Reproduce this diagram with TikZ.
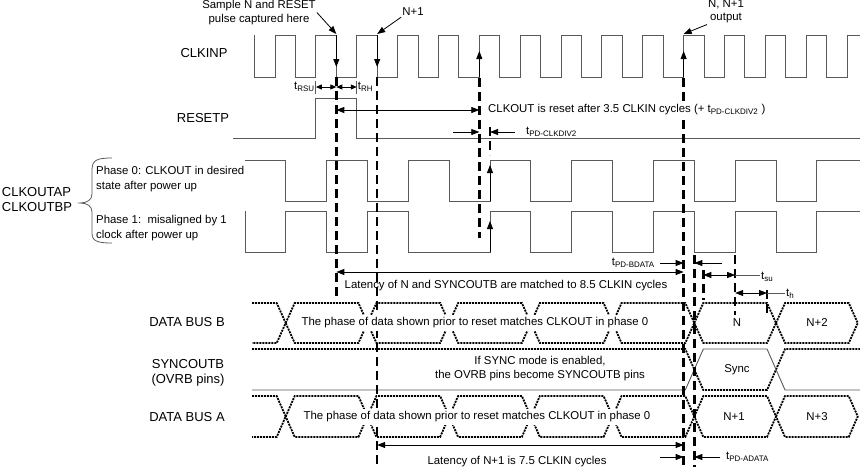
\documentclass[tikz,border=0pt]{standalone}
\usepackage{fontspec}
\setmainfont{Liberation Sans}
\usetikzlibrary{arrows.meta}
\newcommand{\tsub}[1]{t\textsubscript{#1}}
\newcommand{\inx}[1]{254.6+(#1)*20.43}
\newcommand{\outx}[1]{285.7+(#1)*40.86}

\begin{document}
\begin{tikzpicture}[x=1pt, y=-1pt]
  \tikzset{
    wave/.style={black!65, line width=0.9pt},
    bus/.style={black, line width=1.8pt, dash pattern=on 2pt off 1pt},
    marker/.style={black, line width=2.4pt, dash pattern=on 9pt off 5pt},
    tick/.style={black!65, line width=0.8pt},
    dim/.style={black, line width=0.8pt, -{Triangle[length=8pt,width=6pt]}},
    dimboth/.style={dim, {Triangle[length=8pt,width=6pt]}-{Triangle[length=8pt,width=6pt]}},
    dimsmall/.style={dim, {Triangle[length=6pt,width=5pt]}-{Triangle[length=6pt,width=5pt]}},
    signame/.style={font=\fontsize{13}{15}\selectfont, inner sep=1pt},
    note/.style={font=\fontsize{11.4}{13.5}\selectfont, inner sep=1pt},
  }
  \useasboundingbox (0,0) rectangle (860,472);

  % edges that the markers hang on
  \coordinate (rsuStart) at ({\inx{3}},0);
  \coordinate (sampN) at ({\inx{4}},0);
  \coordinate (rhEnd) at ({\inx{5}},0);
  \coordinate (nextN) at ({\inx{6}},0);
  \coordinate (clkRst) at ({\inx{11}},0);
  \coordinate (clkOut) at ({\inx{21}},0);
  \coordinate (rstEdge) at ({\outx{5}},0);
  \coordinate (busB) at ({\outx{10}},0);
  \coordinate (suStart) at ({\outx{10}+9},0);
  \coordinate (capN) at ({\outx{11}},0);
  \coordinate (hEnd) at ({\outx{12}-9},0);

  % waveforms
  \foreach \i in {0,...,14}
    \draw[wave] ({\inx{2*\i}},35) -- ({\inx{2*\i}},77) -- ({\inx{2*\i+1}},77)
      -- ({\inx{2*\i+1}},35) -- ({min(\inx{2*\i+2},860)},35);
  \draw[wave] (233,138) -- (rsuStart |- 0,138) -- (rsuStart |- 0,98)
    -- (rhEnd |- 0,98) -- (rhEnd |- 0,138) -- (860,138);
  \draw[wave] (245,160) \foreach \j in {0,...,6} { -- ({\outx{2*\j}},160) -- ({\outx{2*\j}},201)
    -- ({\outx{2*\j+1}},201) -- ({\outx{2*\j+1}},160) } -- (860,160);
  \draw[wave] (245,211) -- (245,252) \foreach \j in {0,1} { -- ({\outx{2*\j}},252) -- ({\outx{2*\j}},211)
    -- ({\outx{2*\j+1}},211) -- ({\outx{2*\j+1}},252) } -- ({\outx{5}},252) -- ({\outx{5}},211)
    \foreach \j in {3,...,6} { -- ({\outx{2*\j}},211) -- ({\outx{2*\j}},252)
    -- ({\outx{2*\j+1}},252) -- ({\outx{2*\j+1}},211) } -- (860,211);

  % data buses
  \foreach \yt/\yb in {303/343,396/437} {
    \draw[bus] (252,\yt) -- ({\outx{0}-9},\yt) -- ({\outx{0}},{(\yt+\yb)/2}) -- ({\outx{0}-9},\yb) -- (252,\yb);
    \foreach \a/\b in {0/2,2/4,4/6,6/8,8/10,10/12,12/14}
      \draw[bus] ({\outx{\a}},{(\yt+\yb)/2}) -- ({\outx{\a}+9},\yt) -- ({\outx{\b}-9},\yt)
        -- ({\outx{\b}},{(\yt+\yb)/2}) -- ({\outx{\b}-9},\yb) -- ({\outx{\a}+9},\yb) -- cycle;
  }
  \draw[bus] (252,349) -- ({\outx{10}-9},349) -- ({\outx{10}+9},390) -- ({\outx{12}-9},390)
    -- ({\outx{12}+9},349) -- (860,349);
  \draw[wave] (252,390) -- ({\outx{10}-9},390) -- ({\outx{10}+9},349) -- ({\outx{12}-9},349)
    -- ({\outx{12}+9},390) -- (860,390);

  % dashed markers
  \foreach \m/\ya/\yb in {sampN/77/300, nextN/77/467, clkRst/78/238, rstEdge/127/155,
      clkOut/78/467, busB/255/467, suStart/270/300, capN/255/315, hEnd/290/315}
    \draw[marker] (\m |- 0,\ya) -- (\m |- 0,\yb);

  % labels
  \node[signame] (clkinpLbl) at (204,53) {CLKINP};
  \node[signame] (resetpLbl) at (203,118) {RESETP};
  \node[signame, align=left] (clkoutLbl) at (37,200) {CLKOUTAP\\CLKOUTBP};
  \node[signame] (busBLbl) at (187,322) {DATA BUS B};
  \node[signame, align=center] (syncLbl) at (188,373) {SYNCOUTB\\(OVRB pins)};
  \node[signame] (busALbl) at (187,417) {DATA BUS A};
  \draw[tick] (112,158) .. controls (97,158) and (92,160) .. (92,170) -- (92,194)
    .. controls (92,200) and (87,203) .. (80,203) .. controls (87,203) and (92,206) .. (92,212)
    -- (92,233) .. controls (92,241) and (97,243) .. (112,243);
  \node[note, anchor=west, align=left, font=\fontsize{11.4}{15}\selectfont] (phase0Txt) at (95,179.5)
    {Phase 0: CLKOUT in desired\\state after power up};
  \node[note, anchor=west, align=left, font=\fontsize{11.4}{14.5}\selectfont] (phase1Txt) at (95,228)
    {Phase 1:\ \ misaligned by 1\\clock after power up};

  % notes
  \node[note, align=center] (sampleTxt) at (259,12.5) {Sample N and RESET\\pulse captured here};
  \node[note] (nextTxt) at (413,12) {N+1};
  \node[note, align=center] (outTxt) at (726,11.5) {N, N+1\\output};
  \node[note, anchor=east] (rsuTxt) at (rsuStart |- 0,87) {\tsub{RSU}};
  \node[note, anchor=west] (rhTxt) at (rhEnd |- 0,87) {\tsub{RH}};
  \node[note, anchor=west, fill=white] (resetTxt) at (487,110)
    {CLKOUT is reset after 3.5 CLKIN cycles (+ \tsub{PD-CLKDIV2} )};
  \node[note, anchor=west] (pdcTxt) at (525,132) {\tsub{PD-CLKDIV2}};
  \node[note, anchor=east] (pdbTxt) at (656,263) {\tsub{PD-BDATA}};
  \node[note] (latNTxt) at (506,286) {Latency of N and SYNCOUTB are matched to 8.5 CLKIN cycles};
  \node[note, anchor=west] (suTxt) at (760,277) {\tsub{su}};
  \node[note, anchor=west] (hTxt) at (785,294) {\tsub{h}};
  \node[note, fill=white, minimum height=16pt] (busBTxt) at (475,323)
    {The phase of data shown prior to reset matches CLKOUT in phase 0};
  \node[note] (nTxt) at (737,323) {N};
  \node[note] (n2Txt) at (817,323) {N+2};
  \node[note, align=center] (syncModeTxt) at (540,368.5)
    {If SYNC mode is enabled,\\the OVRB pins become SYNCOUTB pins};
  \node[note] (syncTxt) at (737,370) {Sync};
  \node[note, fill=white, minimum height=16pt] (busATxt) at (477,417)
    {The phase of data shown prior to reset matches CLKOUT in phase 0};
  \node[note] (n1Txt) at (734,417) {N+1};
  \node[note] (n3Txt) at (817,417) {N+3};
  \node[note] (latN1Txt) at (517,462) {Latency of N+1 is 7.5 CLKIN cycles};
  \node[note, anchor=west] (pdaTxt) at (725,457) {\tsub{PD-ADATA}};

  % free ends of the timing arrows
  \coordinate (pdcA) at (453,132);
  \coordinate (pdcB) at (515,132);
  \coordinate (pdbA) at (660,263);
  \coordinate (pdbB) at (722,263);
  \coordinate (pdaA) at (660,457);
  \coordinate (pdaB) at (720,457);

  % arrows
  \draw[dim] (sampleTxt.east) -- (sampN |- 0,34);
  \draw[dim] (nextTxt.south west) -- (nextN |- 0,34);
  \draw[dim] (outTxt.south west) -- (clkOut |- 0,34);
  \draw[dim] (sampN |- 0,35) -- (sampN |- 0,67);
  \draw[dim] (nextN |- 0,35) -- (nextN |- 0,67);
  \draw[dim] (clkRst |- 0,77) -- (clkRst |- 0,51);
  \draw[dim] (clkOut |- 0,77) -- (clkOut |- 0,51);
  \draw[dim] (rstEdge |- 0,201) -- (rstEdge |- 0,165);
  \draw[dim] (rstEdge |- 0,252) -- (rstEdge |- 0,221);
  \draw[tick] (rsuStart |- 0,81) -- (rsuStart |- 0,94);
  \draw[tick] (rhEnd |- 0,81) -- (rhEnd |- 0,94);
  \draw[dimsmall] (rsuStart |- 0,87) -- (sampN |- 0,87);
  \draw[dimsmall] (sampN |- 0,87) -- (rhEnd |- 0,87);
  \draw[dimboth] (sampN |- 0,110) -- (clkRst |- 0,110);
  \draw[dim] (pdcA) -- (clkRst |- pdcA);
  \draw[dim] (pdcB) -- (rstEdge |- pdcB);
  \draw[dim] (pdbA) -- (clkOut |- pdbA);
  \draw[dim] (pdbB) -- (busB |- pdbB);
  \draw[dimboth] (sampN |- 0,272) -- (clkOut |- 0,272);
  \draw[dimboth] (suStart |- 0,275) -- (capN |- 0,275);
  \draw[tick] (capN |- 0,275) -- (suTxt.west |- 0,275);
  \draw[dimboth] (capN |- 0,293) -- (hEnd |- 0,293);
  \draw[tick] (hEnd |- 0,293) -- (hTxt.west |- 0,293);
  \draw[dimboth] (nextN |- 0,445) -- (clkOut |- 0,445);
  \draw[dim] (pdaA) -- (clkOut |- pdaA);
  \draw[dim] (pdaB) -- (busB |- pdaB);
\end{tikzpicture}
\end{document}
